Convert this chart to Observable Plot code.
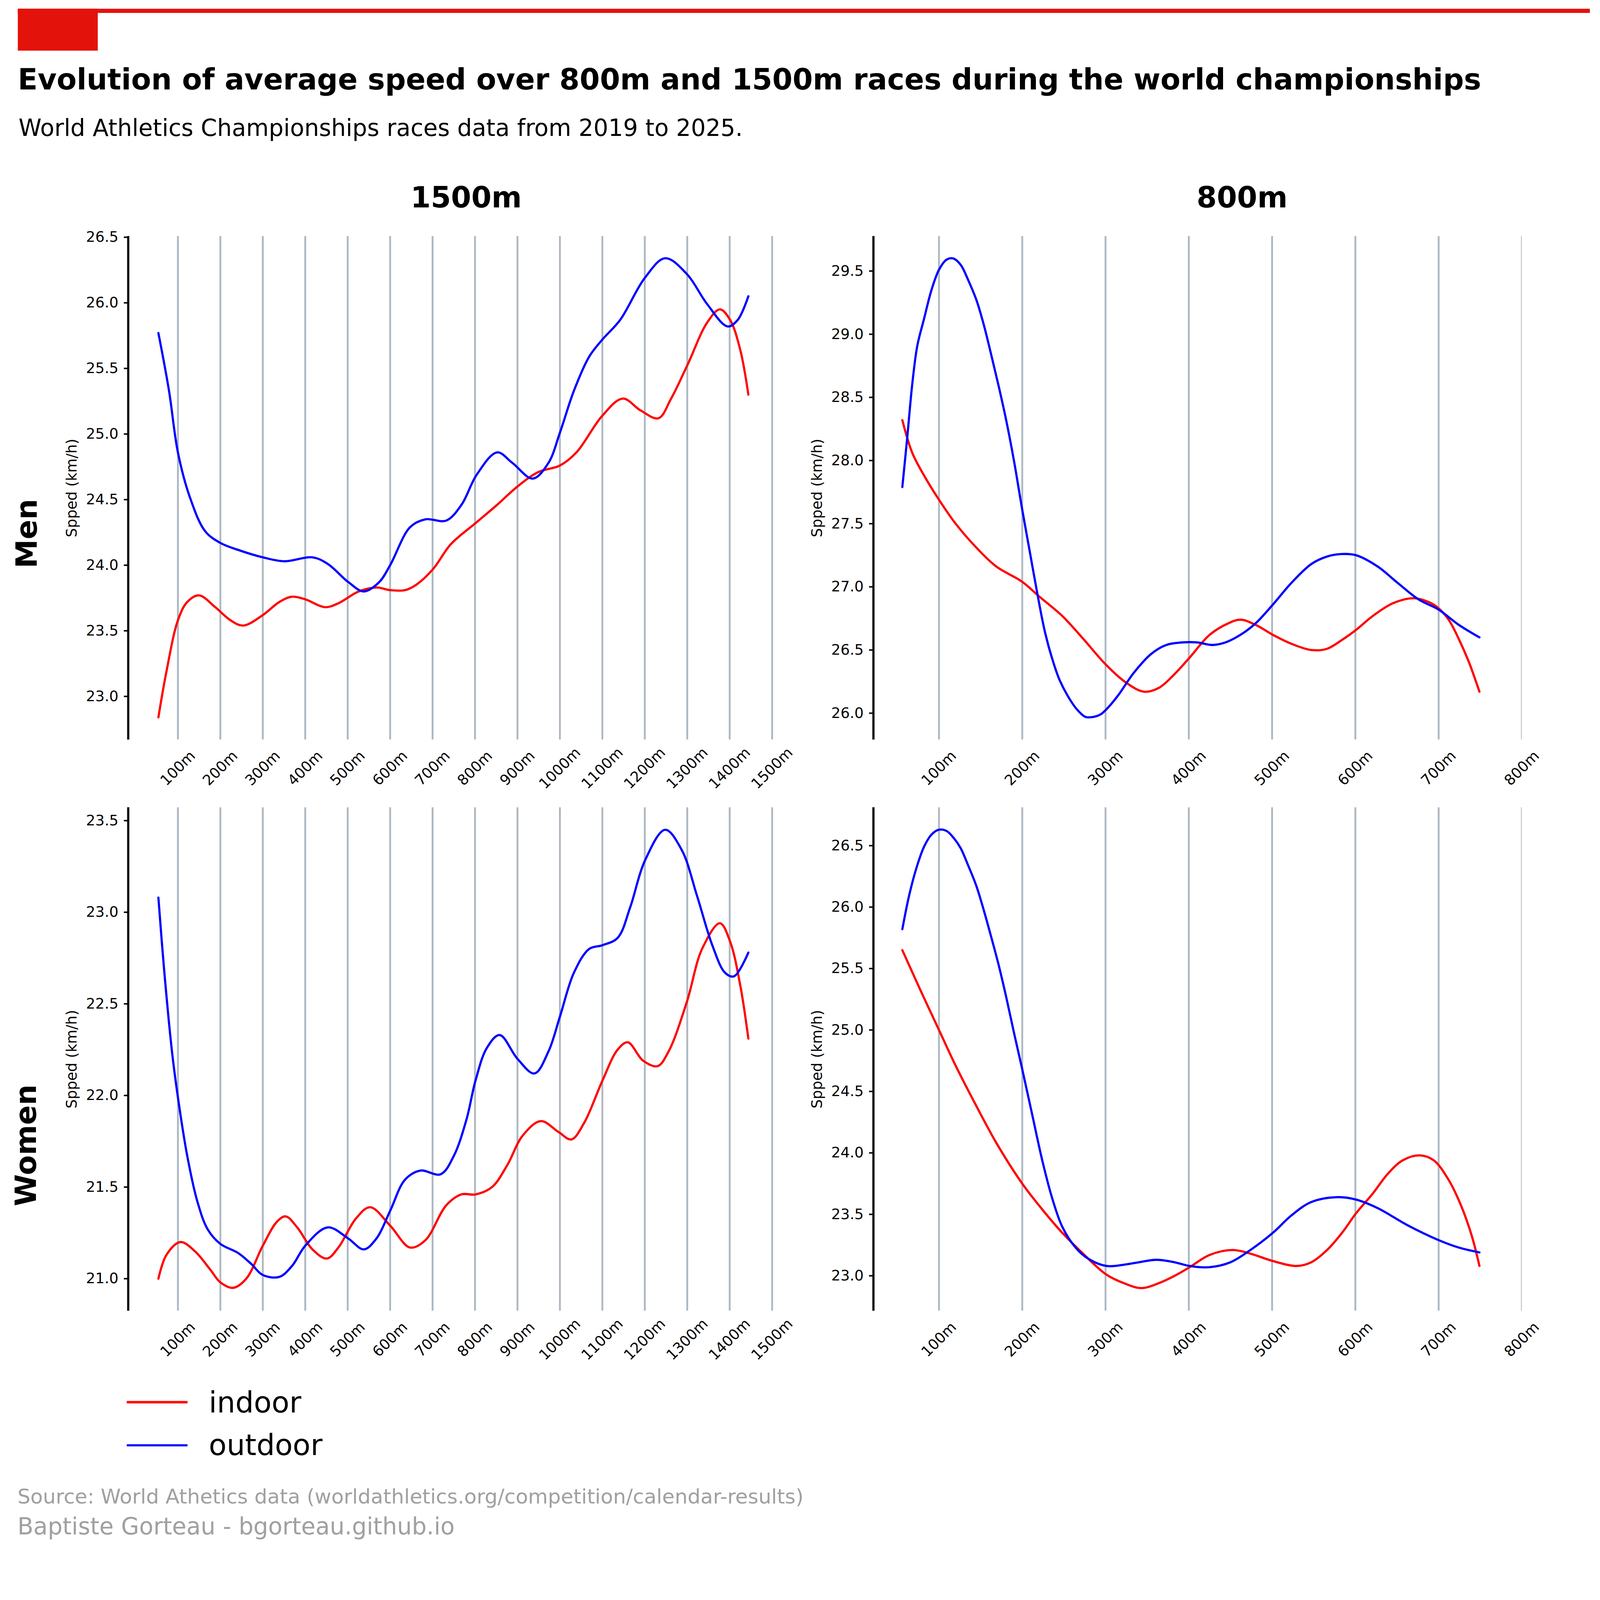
<!DOCTYPE html>
<html>
<head>
<meta charset="utf-8">
<script src="https://cdn.jsdelivr.net/npm/d3@7"></script>
<script src="https://cdn.jsdelivr.net/npm/@observablehq/plot@0.6"></script>
<style>
  html, body { margin: 0; padding: 0; background: white; overflow: hidden; }
  #page { position: relative; width: 4582px; height: 4439px; background: white; overflow: hidden; font-family: "DejaVu Sans", sans-serif; transform-origin: 0 0; }
  .abs { position: absolute; white-space: nowrap; line-height: 1; }
  .panel { position: absolute; }
</style>
</head>
<body>
<div id="page"></div>
<script>
// ---------------- DATA ----------------
const title = "Evolution of average speed over 800m and 1500m races during the world championships";
const subtitle = "World Athletics Championships races data from 2019 to 2025.";
const sourceLine = "Source: World Athetics data (worldathletics.org/competition/calendar-results)";
const authorLine = "Baptiste Gorteau - bgorteau.github.io";
const columns = ["1500m", "800m"];
const rows = ["Men", "Women"];
const seriesNames = ["indoor", "outdoor"];
const yLabel = "Spped (km/h)";

const ticks1500 = [100, 200, 300, 400, 500, 600, 700, 800, 900, 1000, 1100, 1200, 1300, 1400, 1500];
const ticks800 = [100, 200, 300, 400, 500, 600, 700, 800];
const yTicksMen1500 = [23.0, 23.5, 24.0, 24.5, 25.0, 25.5, 26.0, 26.5];
const yTicksMen800 = [26.0, 26.5, 27.0, 27.5, 28.0, 28.5, 29.0, 29.5];
const yTicksWomen1500 = [21.0, 21.5, 22.0, 22.5, 23.0, 23.5];
const yTicksWomen800 = [23.0, 23.5, 24.0, 24.5, 25.0, 25.5, 26.0, 26.5];

// Men 1500m
const men1500OutdoorX = [54, 79, 100, 128, 164, 200, 248, 300, 351, 417, 453, 502, 538, 574, 600, 647, 683, 732, 768, 804, 852, 888, 936, 973, 1000, 1033, 1069, 1100, 1142, 1200, 1248, 1299, 1347, 1395, 1419, 1444];
const men1500OutdoorY = [25.77, 25.33, 24.86, 24.52, 24.26, 24.17, 24.11, 24.06, 24.03, 24.06, 24.01, 23.87, 23.80, 23.87, 24.00, 24.29, 24.35, 24.34, 24.46, 24.69, 24.86, 24.78, 24.66, 24.78, 25.01, 25.33, 25.59, 25.72, 25.87, 26.19, 26.34, 26.22, 25.99, 25.82, 25.87, 26.05];
const men1500IndoorX = [54, 73, 100, 122, 150, 188, 224, 254, 300, 339, 369, 400, 447, 478, 526, 568, 600, 635, 661, 701, 743, 801, 852, 900, 949, 1000, 1039, 1100, 1148, 1190, 1232, 1262, 1301, 1347, 1377, 1401, 1425, 1444];
const men1500IndoorY = [22.84, 23.19, 23.58, 23.72, 23.77, 23.68, 23.58, 23.54, 23.62, 23.72, 23.76, 23.74, 23.68, 23.71, 23.80, 23.83, 23.81, 23.81, 23.85, 23.97, 24.16, 24.32, 24.46, 24.60, 24.71, 24.76, 24.86, 25.14, 25.27, 25.18, 25.12, 25.27, 25.53, 25.85, 25.95, 25.87, 25.64, 25.30];

// Men 800m
const men800OutdoorX = [56, 62, 68, 74, 82, 91, 100, 109, 117, 126, 135, 145, 154, 163, 172, 181, 190, 200, 209, 218, 227, 236, 245, 258, 267, 276, 285, 294, 301, 315, 334, 355, 373, 392, 410, 428, 444, 462, 480, 501, 523, 547, 566, 584, 601, 627, 651, 676, 700, 724, 749];
const men800OutdoorY = [27.79, 28.19, 28.61, 28.91, 29.12, 29.35, 29.51, 29.59, 29.60, 29.55, 29.43, 29.27, 29.07, 28.83, 28.58, 28.31, 28.00, 27.61, 27.28, 26.95, 26.65, 26.43, 26.26, 26.10, 26.02, 25.97, 25.97, 25.99, 26.03, 26.14, 26.32, 26.47, 26.54, 26.56, 26.56, 26.54, 26.56, 26.62, 26.71, 26.86, 27.03, 27.18, 27.24, 27.26, 27.25, 27.16, 27.03, 26.90, 26.82, 26.70, 26.60];
const men800IndoorX = [56, 68, 84, 100, 120, 145, 169, 200, 221, 248, 273, 301, 325, 346, 364, 383, 401, 425, 447, 462, 480, 501, 523, 547, 566, 584, 601, 621, 645, 670, 688, 700, 712, 724, 736, 749];
const men800IndoorY = [28.32, 28.06, 27.86, 27.69, 27.50, 27.31, 27.16, 27.04, 26.92, 26.77, 26.59, 26.38, 26.24, 26.17, 26.20, 26.31, 26.44, 26.62, 26.71, 26.74, 26.70, 26.62, 26.55, 26.50, 26.51, 26.58, 26.66, 26.77, 26.87, 26.91, 26.88, 26.83, 26.74, 26.59, 26.41, 26.17];

// Women 1500m
const women1500OutdoorX = [54, 67, 86, 100, 122, 146, 170, 200, 242, 273, 300, 339, 369, 400, 453, 501, 538, 568, 600, 635, 671, 719, 750, 780, 801, 828, 858, 900, 940, 973, 1000, 1033, 1069, 1100, 1136, 1166, 1200, 1248, 1287, 1323, 1359, 1389, 1410, 1444];
const women1500OutdoorY = [23.08, 22.70, 22.24, 21.99, 21.67, 21.42, 21.27, 21.19, 21.14, 21.08, 21.02, 21.01, 21.07, 21.18, 21.28, 21.22, 21.16, 21.22, 21.37, 21.54, 21.59, 21.57, 21.67, 21.87, 22.08, 22.26, 22.33, 22.20, 22.12, 22.24, 22.43, 22.67, 22.80, 22.82, 22.86, 23.03, 23.28, 23.45, 23.34, 23.09, 22.82, 22.67, 22.65, 22.78];
const women1500IndoorX = [54, 73, 106, 140, 176, 200, 230, 261, 300, 333, 354, 381, 417, 451, 478, 520, 553, 600, 647, 683, 732, 768, 801, 840, 876, 912, 955, 997, 1027, 1057, 1100, 1136, 1160, 1196, 1230, 1256, 1299, 1335, 1377, 1401, 1425, 1444];
const women1500IndoorY = [21.00, 21.13, 21.20, 21.15, 21.05, 20.98, 20.95, 21.00, 21.18, 21.31, 21.34, 21.28, 21.16, 21.11, 21.17, 21.33, 21.39, 21.29, 21.17, 21.21, 21.40, 21.46, 21.46, 21.50, 21.62, 21.78, 21.86, 21.80, 21.76, 21.85, 22.08, 22.25, 22.29, 22.19, 22.16, 22.24, 22.51, 22.80, 22.94, 22.84, 22.60, 22.31];

// Women 800m
const women800OutdoorX = [56, 64, 73, 82, 91, 100, 109, 118, 126, 135, 145, 154, 163, 172, 181, 190, 200, 212, 224, 236, 248, 264, 279, 301, 322, 340, 361, 383, 401, 425, 450, 474, 501, 523, 547, 578, 601, 627, 663, 700, 724, 749];
const women800OutdoorY = [25.82, 26.09, 26.32, 26.49, 26.59, 26.63, 26.62, 26.56, 26.48, 26.34, 26.17, 25.97, 25.75, 25.52, 25.26, 24.98, 24.68, 24.31, 23.94, 23.63, 23.40, 23.23, 23.14, 23.08, 23.09, 23.11, 23.13, 23.11, 23.08, 23.07, 23.11, 23.21, 23.35, 23.49, 23.60, 23.64, 23.62, 23.55, 23.41, 23.29, 23.23, 23.19];
const women800IndoorX = [56, 78, 100, 120, 145, 169, 200, 224, 248, 273, 301, 322, 343, 364, 383, 401, 425, 453, 474, 501, 529, 547, 566, 584, 601, 621, 639, 657, 677, 694, 712, 727, 740, 749];
const women800IndoorY = [25.65, 25.32, 25.00, 24.71, 24.38, 24.08, 23.75, 23.54, 23.35, 23.18, 23.01, 22.94, 22.90, 22.94, 23.00, 23.07, 23.17, 23.21, 23.18, 23.12, 23.08, 23.11, 23.21, 23.35, 23.51, 23.67, 23.83, 23.94, 23.98, 23.94, 23.78, 23.57, 23.32, 23.08];

// ---------------- STYLE ----------------
const RED = "#ff0000", BLUE = "#0000ff", GRID = "#adb8c2", BRAND = "#e3120b", FOOT = "#a0a0a0";
const FS = 41.7;
const page = document.getElementById("page");
// fit the 4582x4439 design into the actual viewport
const fitScale = Math.min(window.innerWidth / 4582, window.innerHeight / 4439);
page.style.transform = `scale(${fitScale})`;

function addText(txt, left, baseline, size, opts = {}) {
  const d = document.createElement("div");
  d.className = "abs";
  d.textContent = txt;
  d.style.fontSize = size + "px";
  d.style.fontWeight = opts.bold ? "bold" : "normal";
  d.style.color = opts.color || "black";
  d.style.top = (baseline - 0.846 * size) + "px";
  d.style.left = left + "px";
  if (opts.center) d.style.transform = "translateX(-50%)";
  page.appendChild(d);
  return d;
}
function addRotated(txt, baselineX, centerY, size, bold) {
  const d = document.createElement("div");
  d.className = "abs";
  d.textContent = txt;
  d.style.fontSize = size + "px";
  d.style.fontWeight = bold ? "bold" : "normal";
  d.style.left = (baselineX - 0.846 * size) + "px";
  d.style.top = centerY + "px";
  d.style.transformOrigin = "0 0";
  d.style.transform = "rotate(-90deg) translateX(-50%)";
  page.appendChild(d);
}
function addBox(left, top, w, h, color) {
  const d = document.createElement("div");
  d.style.position = "absolute";
  d.style.left = left + "px"; d.style.top = top + "px";
  d.style.width = w + "px"; d.style.height = h + "px";
  d.style.background = color;
  page.appendChild(d);
}

// header
addBox(51, 25, 4502, 12, BRAND);
addBox(51, 25, 229, 120, BRAND);
addText(title, 51, 256.7, 83.3, {bold: true});
addText(subtitle, 53, 389.3, 66.7);
addText(columns[0], 1335, 594, 83.3, {bold: true, center: true});
addText(columns[1], 3557, 594, 83.3, {bold: true, center: true});
addRotated(rows[0], 105, 1528, 83.3, true);
addRotated(rows[1], 103, 3280, 83.3, true);

// ---------------- PANELS ----------------
function table(xs, ys) { return xs.map((x, i) => ({x, y: ys[i]})); }

function panel(cfg) {
  const p = Plot.plot({
    width: cfg.width, height: cfg.height,
    marginTop: cfg.mt, marginBottom: cfg.mb, marginLeft: cfg.ml, marginRight: cfg.mr,
    style: {background: "transparent", overflow: "visible", fontFamily: "DejaVu Sans", color: "black"},
    x: {domain: cfg.xDomain, axis: null},
    y: {domain: cfg.yDomain, axis: null},
    marks: [
      Plot.ruleX(cfg.xTicks, {stroke: GRID, strokeWidth: 5.3, clip: true}),
      Plot.ruleX([cfg.xDomain[0]], {stroke: "black", strokeWidth: 6.25}),
      Plot.axisY({ticks: cfg.yTicks, tickFormat: d3.format(".1f"), tickSize: 12, tickPadding: 16,
                  fontSize: FS, strokeWidth: 4.2, label: null, stroke: "black"}),
      Plot.text(cfg.xTicks, {x: d => d, text: d => d + "m", frameAnchor: "bottom", dy: 82, rotate: -45,
                  fontSize: FS, textAnchor: "middle", lineAnchor: "middle", fill: "black"}),
      Plot.text([yLabel], {text: d => d, frameAnchor: "left", dx: -147.5, rotate: -90, fontSize: FS,
                  textAnchor: "middle", lineAnchor: "bottom", fill: "black"}),
      Plot.line(cfg.indoor, {x: "x", y: "y", stroke: RED, strokeWidth: 6.25, curve: "catmull-rom"}),
      Plot.line(cfg.outdoor, {x: "x", y: "y", stroke: BLUE, strokeWidth: 6.25, curve: "catmull-rom"})
    ]
  });
  const wrap = document.createElement("div");
  wrap.className = "panel";
  wrap.style.left = cfg.left + "px";
  wrap.style.top = cfg.top + "px";
  wrap.appendChild(p);
  page.appendChild(wrap);
}

const col1 = {left: 0, width: 2300, ml: 366.7, mr: 72.3, xDomain: [-17.07, 1514], xTicks: ticks1500};
const col2 = {left: 2300, width: 2282, ml: 200.8, mr: 224.1, xDomain: [21.3, 800], xTicks: ticks800};
const row1 = {top: 600, height: 1650, mt: 75.9, mb: 132.2};
const row2 = {top: 2250, height: 1600, mt: 61.8, mb: 96.3};

panel({...col1, ...row1, yDomain: [22.67, 26.508], yTicks: yTicksMen1500,
  indoor: table(men1500IndoorX, men1500IndoorY), outdoor: table(men1500OutdoorX, men1500OutdoorY)});
panel({...col2, ...row1, yDomain: [25.79, 29.776], yTicks: yTicksMen800,
  indoor: table(men800IndoorX, men800IndoorY), outdoor: table(men800OutdoorX, men800OutdoorY)});
panel({...col1, ...row2, yDomain: [20.824, 23.572], yTicks: yTicksWomen1500,
  indoor: table(women1500IndoorX, women1500IndoorY), outdoor: table(women1500OutdoorX, women1500OutdoorY)});
panel({...col2, ...row2, yDomain: [22.714, 26.811], yTicks: yTicksWomen800,
  indoor: table(women800IndoorX, women800IndoorY), outdoor: table(women800OutdoorX, women800OutdoorY)});

// ---------------- LEGEND ----------------
addBox(363, 4015.5 - 3.1, 174, 6.25, RED);
addBox(363, 4139 - 3.1, 174, 6.25, BLUE);
addText(seriesNames[0], 598, 4045.3, 83.3);
addText(seriesNames[1], 598, 4167.4, 83.3);

// ---------------- FOOTER ----------------
addText(sourceLine, 50, 4306, 58.3, {color: FOOT});
addText(authorLine, 50, 4394.7, 66.7, {color: FOOT});
</script>
</body>
</html>
